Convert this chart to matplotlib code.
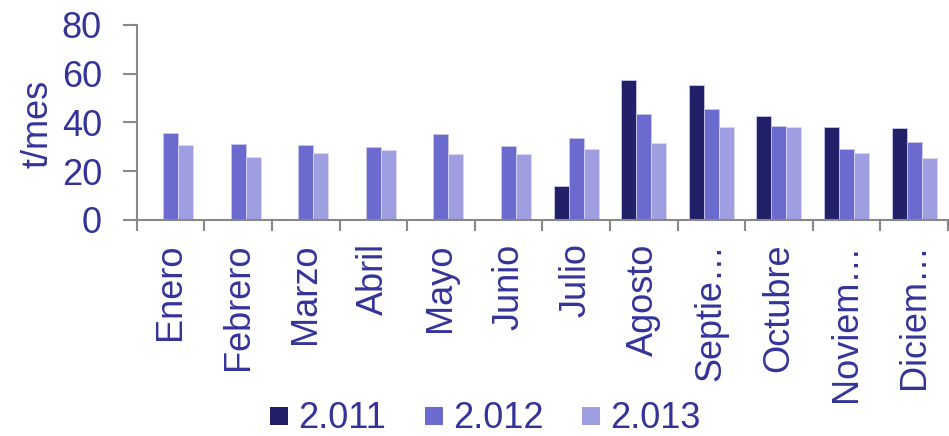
import matplotlib.pyplot as plt
from matplotlib.lines import Line2D
import numpy as np

plt.rcParams['font.family'] = ['Liberation Sans', 'DejaVu Sans']

meses = ['Enero', 'Febrero', 'Marzo', 'Abril', 'Mayo', 'Junio', 'Julio',
         'Agosto', 'Septie…', 'Octubre', 'Noviem…', 'Diciem…']
v2011 = [0, 0, 0, 0, 0, 0, 13.7, 57.4, 55.3, 42.6, 38.1, 37.5]
v2012 = [35.5, 31.0, 30.6, 29.7, 35.2, 30.3, 33.4, 43.4, 45.5, 38.6, 28.9, 31.9]
v2013 = [30.6, 25.6, 27.4, 28.5, 27.1, 26.9, 28.9, 31.5, 38.0, 38.1, 27.4, 25.3]
series = ['2.011', '2.012', '2.013']

txt = '#333399'
gris = '#888888'
colores = ['#212068', '#6b6bcf', '#9e9ee0']
fs = 26

fig = plt.figure(figsize=(9.49, 4.36), dpi=100)
ax = fig.add_axes([136.7 / 949, 1 - 219.7 / 436, (948 - 136.7) / 949, (219.7 - 25) / 436])

x = np.arange(len(meses))
w = 0.222
ax.bar(x - w, v2011, w, color=colores[0], edgecolor='#c8c8ec', linewidth=0.6)
ax.bar(x, v2012, w, color=colores[1], edgecolor='#c8c8ec', linewidth=0.6)
ax.bar(x + w, v2013, w, color=colores[2], edgecolor='#d8d8f4', linewidth=0.6)

ax.set_xlim(-0.5, len(meses) - 0.5)
ax.set_ylim(0, 80)
ax.set_yticks([0, 20, 40, 60, 80])
ax.set_xticks(x)
ax.set_xticklabels(meses, rotation=90, color=txt, fontsize=fs, va='top')
ax.set_xticks(np.arange(len(meses) + 1) - 0.5, minor=True)
ax.tick_params(axis='x', which='major', length=0, pad=17)
ax.tick_params(axis='x', which='minor', length=8, width=1.5, color=gris)
ax.tick_params(axis='y', length=10, width=1.5, color=gris, labelcolor=txt, labelsize=fs, pad=15)
ax.set_ylabel('t/mes', color=txt, fontsize=fs)
ax.yaxis.set_label_coords(-0.1, 0.49)

for s in ['top', 'right']:
    ax.spines[s].set_visible(False)
for s in ['left', 'bottom']:
    ax.spines[s].set_color(gris)
    ax.spines[s].set_linewidth(1.5)

# cuadrados de la leyenda
handles = [Line2D([], [], marker='s', linestyle='none', markersize=13.3,
                  markerfacecolor=c, markeredgecolor=c, markeredgewidth=0) for c in colores]
fig.legend(handles, series, loc='lower center', bbox_to_anchor=(0.511, -0.075), ncol=3,
           frameon=False, fontsize=fs, labelcolor=txt, handlelength=0.55,
           handletextpad=0.25, columnspacing=1.05)

fig.savefig('out.png', dpi=100)
